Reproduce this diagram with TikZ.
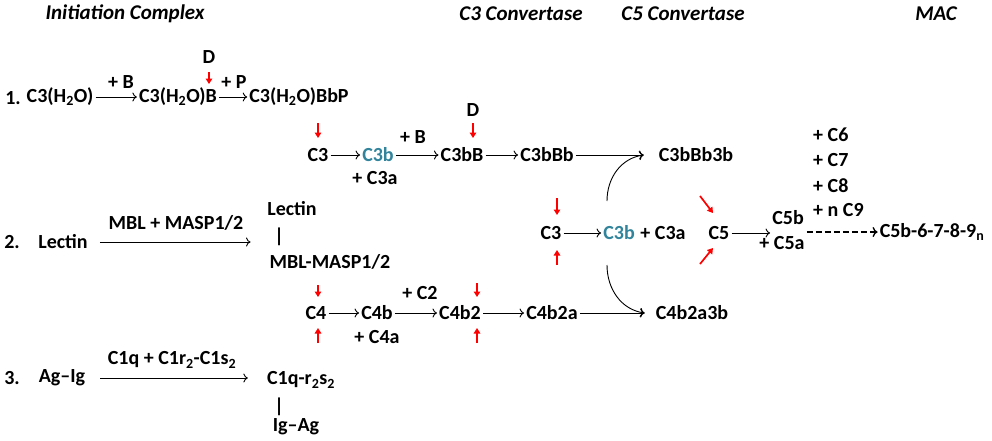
\documentclass[tikz,border=0pt]{standalone}
\usepackage{fontspec}
\setmainfont{Carlito}
\usetikzlibrary{arrows.meta}
\definecolor{cthreeb}{RGB}{49,132,155}
\tikzset{
  every node/.style={font=\fontsize{20}{24}\selectfont\bfseries, inner sep=2pt},
  head/.style={font=\fontsize{21}{25}\selectfont\bfseries\itshape},
  rxn/.style={-{To[length=4.5pt,width=9pt]}, line width=0.9pt},
  redarr/.style={red, line width=1.7pt, -{Triangle[length=5.5pt,width=6.5pt]}},
  dasharr/.style={dash pattern=on 6pt off 3pt, line width=1.4pt, -{To[length=5pt,width=10pt]}}
}
\begin{document}
\begin{tikzpicture}[x=1pt,y=-1pt]
        \useasboundingbox (0,0) rectangle (992,440);
        % Headings
        \node (hinit) [head] at (125,14) {Initiation Complex};
        \node (hcthree) [head] at (521,14) {C3 Convertase};
        \node (hcfive) [head] at (683,14) {C5 Convertase};
        \node (hmac) [head] at (936,14) {MAC};

        % Pathway 1
        \node (none) at (13,98) {1.};
        \node (c3h2o) at (60,97) {C3(H\textsubscript{2}O)};
        \node (c3h2ob) at (178,97) {C3(H\textsubscript{2}O)B};
        \node (c3h2obbp) at (299,97) {C3(H\textsubscript{2}O)BbP};
        \node (plusb) at (121,82) {+ B};
        \node (plusp) at (234,82) {+ P};
        \node (dfirst) at (209,57) {D};

        \node (c3) at (318,155) {C3};
        \node (c3b) [text=cthreeb] at (378,155) {C3b};
        \node (c3a) at (375,178) {+ C3a};
        \node (plusbb) at (413,137) {+ B};
        \node (c3bb) at (462,155) {C3bB};
        \node (dsecond) at (473,110) {D};
        \node (c3bbb) at (547,155) {C3bBb};
        \node (c3bbb3b) at (696,155) {C3bBb3b};

        % Pathway 2
        \node (ntwo) at (12,242) {2.};
        \node (lectin) at (63,242) {Lectin};
        \node (mbllab) at (176,223) {MBL + MASP1/2};
        \node (lectintop) at (292,209) {Lectin};
        \node (barone) at (279,237) {|};
        \node (mblmasp) at (330,262) {MBL-MASP1/2};

        \node (c4) at (316,313) {C4};
        \node (c4b) at (377,313) {C4b};
        \node (c4a) at (377,337) {+ C4a};
        \node (plusc2) at (420,293) {+ C2};
        \node (c4b2) at (460,313) {C4b2};
        \node (c4b2a) at (552,313) {C4b2a};
        \node (c4b2a3b) at (692,313) {C4b2a3b};

        % Pathway 3
        \node (nthree) at (12,378) {3.};
        \node (agig) at (62,378) {Ag--Ig};
        \node (c1lab) at (172,360) {C1q + C1r\textsubscript{2}-C1s\textsubscript{2}};
        \node (c1q) at (301,380) {C1q-r\textsubscript{2}s\textsubscript{2}};
        \node (bartwo) at (279,407) {|};
        \node (igag) at (296,427) {Ig--Ag};

        % Convertases and MAC
        \node (c3mid) at (551,233) {C3};
        \node (c3bmid) [text=cthreeb] at (619,233) {C3b};
        \node (c3amid) at (663,233) {+ C3a};
        \node (c5) at (719,233) {C5};
        \node (c5b) at (788,218) {C5b};
        \node (c5a) at (782,243) {+ C5a};
        \node (c6) [anchor=west] at (811,135) {+ C6};
        \node (c7) [anchor=west] at (811,160) {+ C7};
        \node (c8) [anchor=west] at (811,186) {+ C8};
        \node (c9) [anchor=west] at (811,210) {+ n C9};
        \node (mac) at (932,232) {C5b-6-7-8-9\textsubscript{n}};
        \coordinate (arcup) at (607,201);
        \coordinate (arcdown) at (607,265);

        % Arrows
        \draw[rxn] (c3h2o) -- (c3h2ob);
        \draw[rxn] (c3h2ob) -- (c3h2obbp);
        \draw[rxn] (c3) -- (c3b);
        \draw[rxn] (c3b) -- (c3bb);
        \draw[rxn] (c3bb) -- (c3bbb);
        \draw[rxn, shorten >=13pt] (c3bbb) -- (c3bbb3b);
        \draw[rxn] (arcup) to[out=90, in=188] ([xshift=-13pt]c3bbb3b.west);
        \draw[rxn, shorten <=10pt, shorten >=17pt] (lectin.east) -- (lectin.east -| mblmasp.west);
        \draw[rxn] (c4) -- (c4b);
        \draw[rxn] (c4b) -- (c4b2);
        \draw[rxn] (c4b2) -- (c4b2a);
        \draw[rxn, shorten >=9pt] (c4b2a) -- (c4b2a3b);
        \draw[rxn] (arcdown) to[out=-90, in=172] ([xshift=-9pt]c4b2a3b.west);
        \draw[rxn, shorten <=13pt, shorten >=17pt] (agig.east) -- (agig.east -| c1q.west);
        \draw[rxn] (c3mid) -- (c3bmid);
        \draw[rxn] (c5) -- (c5 -| c5b.west);
        \draw[dasharr] (mac.west -| c5a.east) -- (mac.west);

        % Red arrows
        \draw[redarr] ([shift={(31,-25)}]c3h2ob.center) -- ([shift={(31,-13)}]c3h2ob.center);
        \draw[redarr] ([shift={(0,-32)}]c3.center) -- ([shift={(0,-17)}]c3.center);
        \draw[redarr] ([shift={(11,-32)}]c3bb.center) -- ([shift={(11,-17)}]c3bb.center);
        \draw[redarr] ([shift={(2,-28)}]c4.center) -- ([shift={(2,-16)}]c4.center);
        \draw[redarr] ([shift={(2,30)}]c4.center) -- ([shift={(2,15)}]c4.center);
        \draw[redarr] ([shift={(17,-30)}]c4b2.center) -- ([shift={(17,-16)}]c4b2.center);
        \draw[redarr] ([shift={(17,30)}]c4b2.center) -- ([shift={(17,15)}]c4b2.center);
        \draw[redarr] ([shift={(6,-35)}]c3mid.center) -- ([shift={(6,-18)}]c3mid.center);
        \draw[redarr] ([shift={(6,32)}]c3mid.center) -- ([shift={(6,17)}]c3mid.center);
        \draw[redarr] ([shift={(-19,-37)}]c5.center) -- ([shift={(-6,-20)}]c5.center);
        \draw[redarr] ([shift={(-19,31)}]c5.center) -- ([shift={(-6,15)}]c5.center);
    \end{tikzpicture}
\end{document}
